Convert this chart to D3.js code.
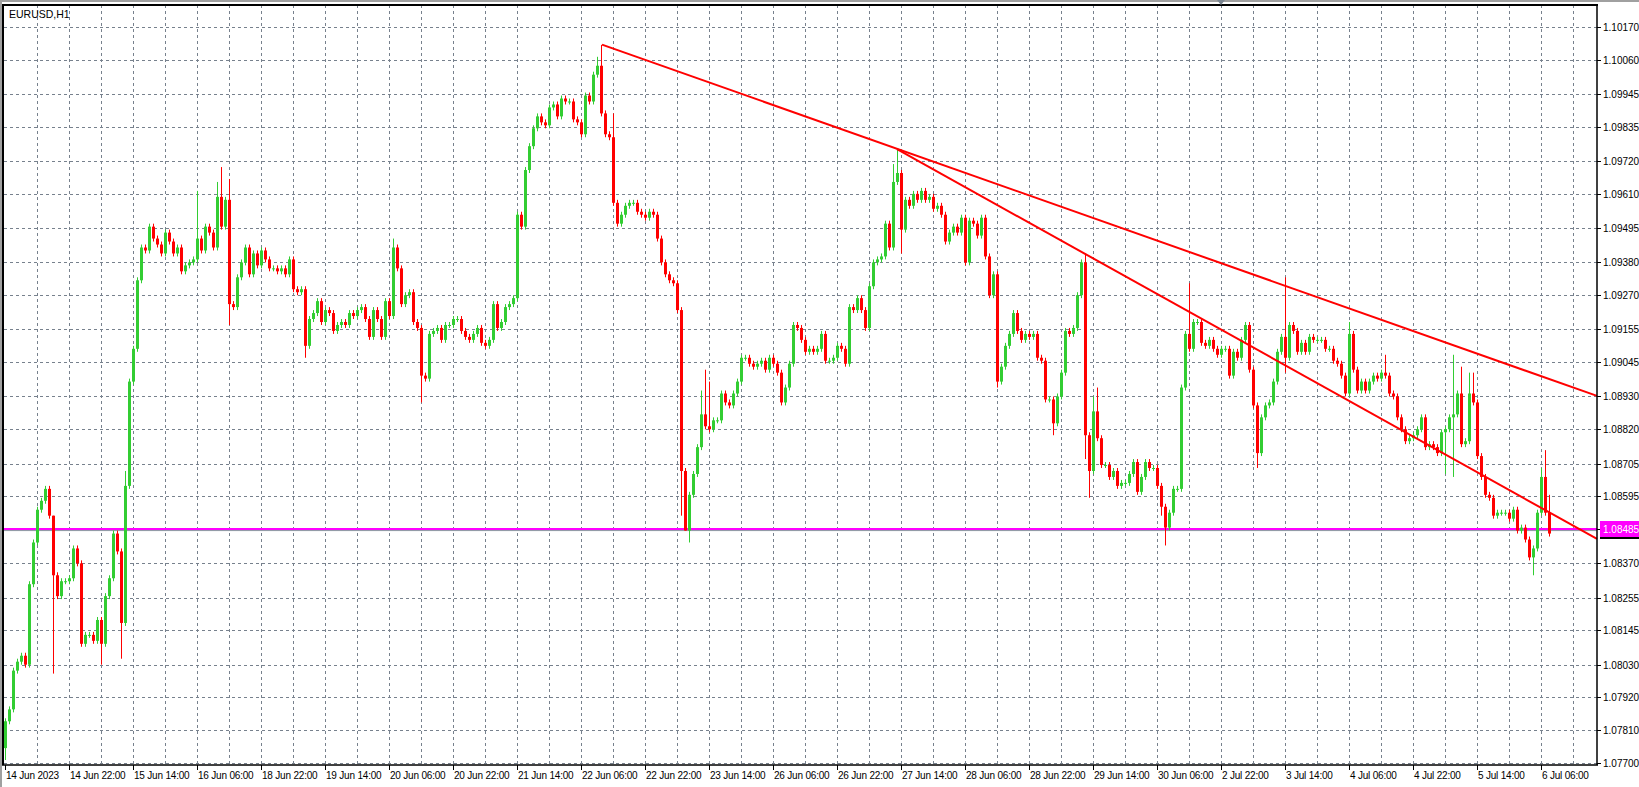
<!DOCTYPE html>
<html><head><meta charset="utf-8">
<script src="https://cdn.jsdelivr.net/npm/d3@7"></script>
<style>body{margin:0;background:#fff;overflow:hidden}text{font-family:"Liberation Sans",Arial,sans-serif}</style>
</head><body><svg id="c" width="1639" height="787"></svg>
<script>
const symbol = "EURUSD,H1";
const firstOpen = 75; // pips above 1.07000
const closes = [
84,88,101,104,106,103,130,144,155,158,
162,153,133,126,131,131,132,142,137,110,
113,113,111,118,110,126,132,147,141,117,
163,198,209,232,243,242,250,246,244,241,
248,245,241,243,235,237,238,239,246,242,
250,248,243,260,250,259,224,223,233,238,
243,234,241,237,242,239,236,236,235,236,
234,239,229,228,229,210,219,221,225,218,
222,221,215,217,218,217,221,220,222,223,
219,213,222,219,213,225,220,243,236,224,
227,228,218,216,200,199,214,215,216,212,
217,217,219,219,215,213,212,214,216,211,
210,212,224,216,218,223,224,226,254,250,
269,277,283,287,285,284,290,291,287,293,
292,292,286,285,281,294,292,301,304,288,
281,280,258,251,254,257,258,258,255,254,
253,255,254,246,238,234,232,231,222,168,
148,160,167,176,187,183,182,185,185,194,
191,190,194,198,206,206,204,203,204,205,
202,206,204,201,191,196,204,217,216,212,
208,209,208,209,214,205,205,206,210,209,
204,223,222,226,222,216,230,238,239,240,
251,243,265,268,249,259,257,261,259,262,
259,260,256,257,254,245,248,250,248,253,
238,252,251,247,253,240,227,234,198,203,
210,214,221,215,212,214,213,214,206,205,
192,192,184,193,201,215,214,216,227,238,
180,168,188,179,170,170,166,168,163,164,
164,167,171,161,166,171,169,169,163,156,
149,154,162,162,196,214,209,218,218,211,
210,212,209,207,209,209,200,208,206,212,
217,202,190,174,186,190,191,198,208,213,
206,217,215,208,211,208,213,212,212,212,
209,209,205,204,200,194,214,202,195,198,
195,198,200,199,201,200,194,193,186,182,
178,179,180,182,186,176,177,176,174,181,
182,186,187,194,177,178,194,191,173,166,
160,159,153,154,154,154,152,155,148,149,
145,139,142,154,166,154,147];
const highs = {12:153,30:168,48:262,53:265,54:270,56:266,97:246,148:307,149:311,152:288,174:195,175:202,176:198,
  222:271,223:276,270:241,272:193,273:196,296:231,320:233,336:218,345:207,362:207,364:203,366:201,367:201,384:169,385:175,386:160};
const lows = {0:71,12:100,24:103,29:105,56:217,75:206,104:191,169:153,170:148,171:144,224:241,248:196,262:180,
  270:172,271:159,289:153,290:143,313:169,320:201,360:167,362:166,382:133,386:146};
const xLabels = ["14 Jun 2023","14 Jun 22:00","15 Jun 14:00","16 Jun 06:00","18 Jun 22:00","19 Jun 14:00","20 Jun 06:00",
 "20 Jun 22:00","21 Jun 14:00","22 Jun 06:00","22 Jun 22:00","23 Jun 14:00","26 Jun 06:00","26 Jun 22:00","27 Jun 14:00",
 "28 Jun 06:00","28 Jun 22:00","29 Jun 14:00","30 Jun 06:00","2 Jul 22:00","3 Jul 14:00","4 Jul 06:00","4 Jul 22:00",
 "5 Jul 14:00","6 Jul 06:00"];
const yTicks = ["1.10170","1.10060","1.09945","1.09835","1.09720","1.09610","1.09495","1.09380","1.09270","1.09155",
 "1.09045","1.08930","1.08820","1.08705","1.08595","1.08485","1.08370","1.08255","1.08145","1.08030","1.07920","1.07810","1.07700"];
const hLine = 1.08485;
const trendLines = [{i1:149.25,p1:1.10111,i2:398,p2:1.08932},{i1:223,p1:1.09760,i2:398,p2:1.08452}];

const P = v => 1.07 + v/10000;
const candles = closes.map((c,i)=>{
  const o = i===0 ? firstOpen : closes[i-1];
  const hi = Math.max(highs[i] ?? Math.max(o,c)+1, o, c);
  const lo = Math.min(lows[i] ?? Math.min(o,c)-1, o, c);
  return {i,o:P(o),c:P(c),h:P(hi),l:P(lo)};
});

const svg = d3.select("#c");
const L=4, R=1597, T=5, B=765;
const x = d3.scaleLinear().domain([0,1]).range([5,9]);
const y = d3.scaleLinear().domain([1.0770,1.1017]).range([763,27]);
const grid = "#77818d";

svg.append("rect").attr("x",0).attr("y",0).attr("width",1639).attr("height",2).attr("fill","#a0a0a0");
svg.append("rect").attr("x",0).attr("y",0).attr("width",2).attr("height",787).attr("fill","#a0a0a0");
const g = svg.append("g");
const vg = d3.range(8,400,8).filter(i=>x(i)<R-2);
g.selectAll(".vg").data(vg).join("line").attr("x1",d=>x(d)+0.5).attr("x2",d=>x(d)+0.5).attr("y1",T).attr("y2",B)
 .attr("stroke",grid).attr("stroke-dasharray","3,3");
const yv = yTicks.map(Number);
g.selectAll(".hg").data(yv).join("line").attr("x1",L).attr("x2",R).attr("y1",d=>Math.round(y(d))+0.5).attr("y2",d=>Math.round(y(d))+0.5)
 .attr("stroke",grid).attr("stroke-dasharray","3,3");

g.append("line").attr("x1",L).attr("x2",R).attr("y1",y(hLine)+1.5).attr("y2",y(hLine)+1.5).attr("stroke","#8a94a0").attr("stroke-width",1);
g.append("line").attr("x1",L).attr("x2",R).attr("y1",y(hLine)).attr("y2",y(hLine)).attr("stroke","#ff00ff").attr("stroke-width",2);

const cg = svg.append("g");
cg.selectAll(".w").data(candles).join("line").attr("x1",d=>x(d.i)+0.5).attr("x2",d=>x(d.i)+0.5)
 .attr("y1",d=>y(d.h)).attr("y2",d=>y(d.l)).attr("stroke",d=>d.c>=d.o?"#32cd32":"#ff0000").attr("stroke-width",1);
cg.selectAll(".b").data(candles).join("rect").attr("x",d=>x(d.i)-1).attr("width",3)
 .attr("y",d=>y(Math.max(d.o,d.c))).attr("height",d=>Math.max(1,Math.abs(y(d.o)-y(d.c))))
 .attr("fill",d=>d.c>=d.o?"#32cd32":"#ff0000");

svg.selectAll(".tl").data(trendLines).join("line").attr("x1",d=>x(d.i1)).attr("y1",d=>y(d.p1)).attr("x2",d=>x(d.i2)).attr("y2",d=>y(d.p2))
 .attr("stroke","#ff0000").attr("stroke-width",2);

svg.append("line").attr("x1",L-1).attr("x2",L-1).attr("y1",T).attr("y2",B).attr("stroke","#000").attr("stroke-width",2);
svg.append("line").attr("x1",L-2).attr("x2",R+1).attr("y1",T).attr("y2",T).attr("stroke","#000").attr("stroke-width",2);
svg.append("line").attr("x1",R).attr("x2",R).attr("y1",T).attr("y2",B).attr("stroke","#000").attr("stroke-width",1.5);
svg.append("line").attr("x1",L-2).attr("x2",R+1).attr("y1",B).attr("y2",B).attr("stroke","#000").attr("stroke-width",1.5);

const ya = svg.append("g");
yTicks.forEach(t=>{
  const yy = Math.round(y(+t));
  ya.append("line").attr("x1",R).attr("x2",R+4).attr("y1",yy+0.5).attr("y2",yy+0.5).attr("stroke","#000");
  if(+t!==hLine) ya.append("text").attr("x",1603).attr("y",yy+4).attr("font-size",10).attr("fill","#000").text(t);
});
const hy = Math.round(y(hLine));
ya.append("rect").attr("x",1600).attr("y",hy-8).attr("width",39).attr("height",16).attr("fill","#ff00ff");
ya.append("rect").attr("x",1600).attr("y",hy+8).attr("width",39).attr("height",2).attr("fill","#000");
ya.append("text").attr("x",1603).attr("y",hy+4).attr("font-size",10).attr("fill","#fff").text(yTicks.find(t=>+t===hLine));

const xa = svg.append("g");
xLabels.forEach((t,k)=>{
  const xx = Math.round(x(k*16));
  xa.append("line").attr("x1",xx+0.5).attr("x2",xx+0.5).attr("y1",B).attr("y2",B+5).attr("stroke","#000");
  xa.append("text").attr("x",xx+1).attr("y",779).attr("font-size",10).attr("letter-spacing",-0.2).attr("fill","#000").text(t);
});

svg.append("text").attr("x",9).attr("y",18).attr("font-size",10.5).attr("fill","#000").text(symbol);
svg.append("path").attr("d",`M${x(304)-4},0 L${x(304)+4},0 L${x(304)},5 Z`).attr("fill","#7a8590");
</script></body></html>
